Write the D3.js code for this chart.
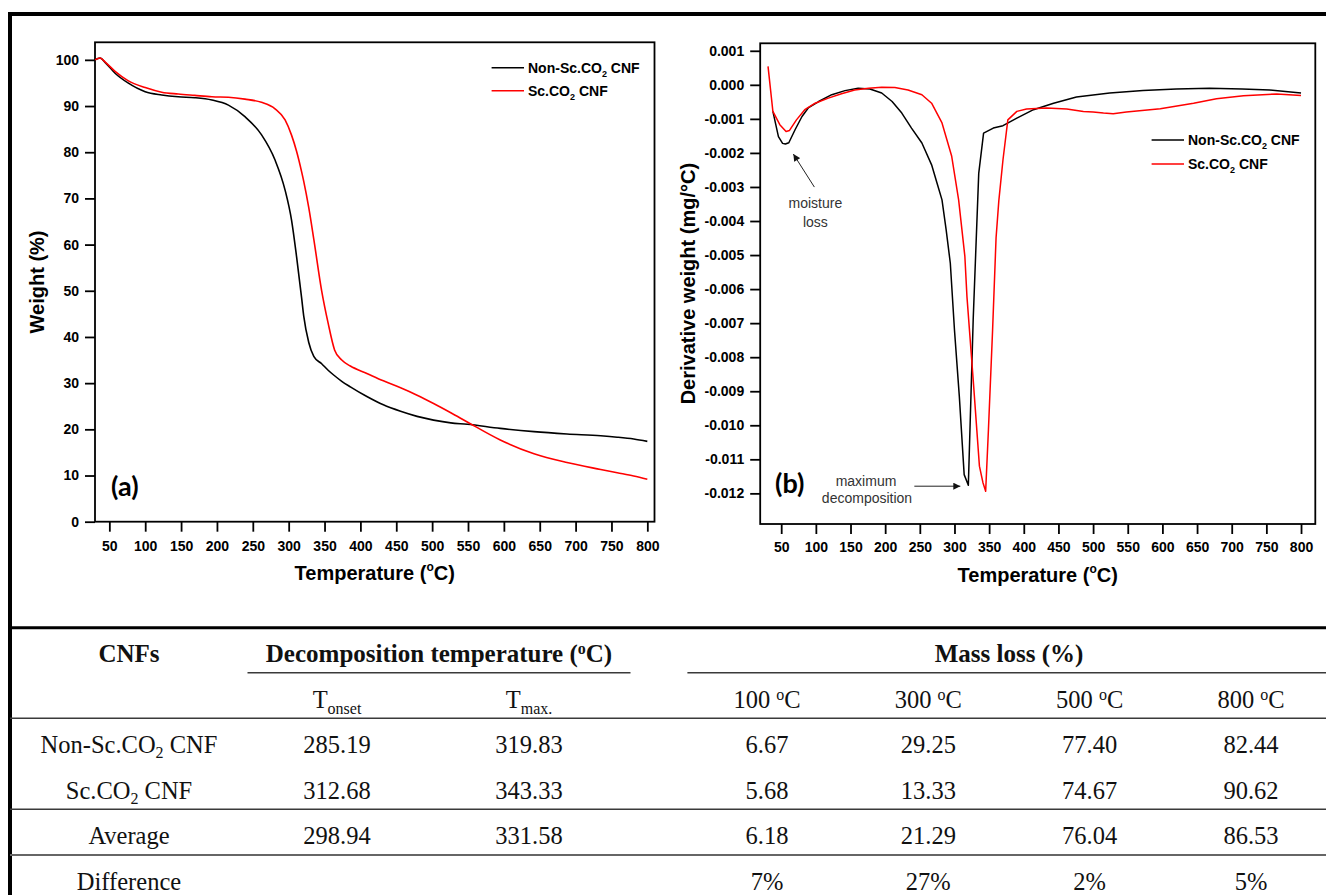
<!DOCTYPE html>
<html>
<head>
<meta charset="utf-8">
<script src="https://cdn.jsdelivr.net/npm/d3@7"></script>
<style>
  body { margin: 0; background: #fff; }
  .tick text { font-family: "Liberation Sans", Arial, sans-serif; font-size: 14px; font-weight: bold; fill: #000; }
  .tick line { stroke: #000; stroke-width: 1.8; }
  .title { font-family: "Liberation Sans", Arial, sans-serif; font-size: 20px; font-weight: bold; }
  .legend { font-family: "Liberation Sans", Arial, sans-serif; font-size: 14px; font-weight: bold; }
  .note { font-family: "Liberation Sans", Arial, sans-serif; font-size: 14px; fill: #333; }
  .panel { font-family: Lato, "Open Sans", sans-serif; font-size: 27px; font-weight: bold; }
  .tbl { font-family: "Liberation Serif", "Times New Roman", serif; font-size: 24.5px; fill: #111; }
  .tbl.head { font-weight: bold; font-size: 25px; }
</style>
</head>
<body>
<div id="chart"></div>
<script>
// ---- panel (a): TGA weight curves ----
var tgaTemp = [30, 37, 45, 58, 76, 100, 123, 146, 169, 193, 216, 239, 262, 281, 295, 304, 311, 318, 321, 328,
  335, 346, 355, 364, 374, 386, 409, 432, 456, 479, 502, 526, 549, 595, 642, 688, 735, 758, 781, 800];
var tgaNonSc = [100.0, 100.4, 99.3, 97.1, 95.0, 93.1, 92.4, 92.0, 91.8, 91.3, 90.2, 87.7, 83.8, 78.3, 71.8, 65.3, 57.4, 48.5, 44.5, 38.8,
  35.8, 34.2, 32.8, 31.6, 30.4, 29.2, 27.1, 25.3, 23.9, 22.8, 22.0, 21.4, 21.1, 20.2, 19.5, 19.0, 18.6, 18.3, 17.9, 17.4];
var tgaSc = [100.0, 100.4, 99.4, 97.5, 95.5, 94.0, 93.0, 92.6, 92.3, 92.0, 91.9, 91.5, 90.8, 89.4, 87.0, 83.7, 80.2, 75.8, 73.7, 68.0,
  61.2, 50.0, 43.0, 37.2, 35.0, 33.7, 32.1, 30.5, 29.0, 27.4, 25.6, 23.6, 21.6, 17.7, 14.7, 12.8, 11.3, 10.6, 9.9, 9.2];

// ---- panel (b): DTG derivative curves ----
var dtgTempNonSc = [38, 46, 52, 56, 61, 70, 80, 89, 104, 123, 142, 161, 178, 195, 210, 224, 238, 253, 267, 275,
  282, 288, 294, 300, 307, 314, 320, 327, 335, 342, 356, 370, 390, 414, 443, 476, 524, 572, 620, 668, 715, 755, 800];
var dtgNonSc = [-0.00078, -0.00152, -0.00172, -0.00174, -0.00170, -0.00132, -0.00093, -0.00068, -0.00049, -0.00029,
  -0.00017, -0.00010, -0.00012, -0.00024, -0.00049, -0.00083, -0.00127, -0.00171, -0.00235, -0.00290,
  -0.00338, -0.00426, -0.00524, -0.00720, -0.00915, -0.01145, -0.01176, -0.00690, -0.00260, -0.00142,
  -0.00127, -0.00120, -0.00098, -0.00073, -0.00054, -0.00036, -0.00024, -0.00017, -0.00012, -0.00010,
  -0.00012, -0.00015, -0.00024];
var dtgTempSc = [31, 38, 48, 57, 62, 72, 84, 99, 118, 137, 156, 176, 195, 214, 233, 253, 267, 282, 296, 306,
  315, 318, 327, 336, 341, 345, 349, 355, 360, 364, 370, 377, 390, 404, 433, 462, 486, 500, 515, 529,
  548, 597, 645, 678, 717, 765, 800];
var dtgSc = [0.00054, -0.00078, -0.00117, -0.00137, -0.00134, -0.00103, -0.00073, -0.00054, -0.00039, -0.00026,
  -0.00015, -0.00010, -0.00007, -0.00008, -0.00015, -0.00029, -0.00054, -0.00112, -0.00210, -0.00338,
  -0.00504, -0.00622, -0.00866, -0.01120, -0.01168, -0.01194, -0.01013, -0.00720, -0.00450, -0.00340,
  -0.00220, -0.00103, -0.00078, -0.00071, -0.00068, -0.00071, -0.00078, -0.00080, -0.00083, -0.00085,
  -0.00080, -0.00070, -0.00054, -0.00041, -0.00032, -0.00027, -0.00031];

// tick values
var tempTicks = d3.range(50, 801, 50);
var weightTicks = d3.range(0, 101, 10);
var derivTicks = d3.range(-12, 2).map(function (d) { return d / 1000; });

// ---- table ----
var rowNames = ["Non-Sc.CO2 CNF", "Sc.CO2 CNF", "Average", "Difference"];
var tOnset = [285.19, 312.68, 298.94, null];
var tMax = [319.83, 343.33, 331.58, null];
var lossTemps = [100, 300, 500, 800];
var lossNonSc = [6.67, 29.25, 77.40, 82.44];
var lossSc = [5.68, 13.33, 74.67, 90.62];
var lossAvg = [6.18, 21.29, 76.04, 86.53];
var lossDiff = ["7%", "27%", "2%", "5%"];

var seriesNames = ["Non-Sc.CO2 CNF", "Sc.CO2 CNF"];
var seriesColors = ["#000", "#ff0000"];

var svg = d3.select("#chart").append("svg")
  .attr("width", 1326)
  .attr("height", 895);

var defs = svg.append("defs");
defs.append("marker")
  .attr("id", "arrow")
  .attr("viewBox", "0 0 10 10")
  .attr("refX", 10).attr("refY", 5)
  .attr("markerWidth", 9).attr("markerHeight", 7)
  .attr("markerUnits", "userSpaceOnUse")
  .attr("orient", "auto")
  .append("path").attr("d", "M0,0 L10,5 L0,10 Z").attr("fill", "#111");

// text with sub/superscript pieces: parts = [[text, ""|"sub"|"sup"], ...]
function richText(g, x, y, parts, small, shiftSub, shiftSup) {
  var t = g.append("text").attr("x", x).attr("y", y);
  var shift = 0;
  parts.forEach(function (p) {
    var s = t.append("tspan").text(p[0]);
    var target = p[1] == "sub" ? shiftSub : (p[1] == "sup" ? -shiftSup : 0);
    if (target != shift) s.attr("dy", target - shift);
    shift = target;
    if (p[1]) s.style("font-size", small + "px");
  });
  return t;
}
function co2Parts(name) {
  var i = name.indexOf("CO2");
  return [[name.slice(0, i + 2), ""], ["2", "sub"], [name.slice(i + 3), ""]];
}

// outer frame of the figure
svg.append("rect")
  .attr("x", 10).attr("y", 14)
  .attr("width", 1400).attr("height", 1000)
  .attr("fill", "none").attr("stroke", "#000").attr("stroke-width", 4);

// ================= panel (a) =================
var xA = d3.scaleLinear().domain([30, 810]).range([95, 654.5]);
var yA = d3.scaleLinear().domain([0, 103.8]).range([521.7, 42.3]);
var gA = svg.append("g");

gA.append("g")
  .attr("transform", "translate(0," + yA(0) + ")")
  .call(d3.axisBottom(xA).tickValues(tempTicks).tickSize(10).tickPadding(9).tickSizeOuter(0))
  .call(function (g) { g.select(".domain").remove(); });
gA.append("g")
  .attr("transform", "translate(" + xA(30) + ",0)")
  .call(d3.axisLeft(yA).tickValues(weightTicks).tickSize(10).tickPadding(6).tickSizeOuter(0))
  .call(function (g) { g.select(".domain").remove(); });

gA.append("rect")
  .attr("x", xA(30)).attr("y", yA(103.8))
  .attr("width", xA(810) - xA(30)).attr("height", yA(0) - yA(103.8))
  .attr("fill", "none").attr("stroke", "#000").attr("stroke-width", 1.8);

var lineA = d3.line().curve(d3.curveMonotoneX)
  .x(function (d) { return xA(d[0]); })
  .y(function (d) { return yA(d[1]); });
[tgaNonSc, tgaSc].forEach(function (vals, i) {
  gA.append("path")
    .datum(tgaTemp.map(function (t, j) { return [t, vals[j]]; }))
    .attr("d", lineA)
    .attr("fill", "none")
    .attr("stroke", seriesColors[i])
    .attr("stroke-width", 1.6);
});

// axis titles
richText(gA, (xA(30) + xA(810)) / 2, 580, [["Temperature (", ""], ["o", "sup"], ["C)", ""]], 12, 0, 9)
  .attr("class", "title").attr("text-anchor", "middle");
gA.append("text").attr("class", "title")
  .attr("transform", "translate(44," + (yA(0) + yA(103.8)) / 2 + ") rotate(-90)")
  .attr("text-anchor", "middle")
  .text("Weight (%)");

// legend
seriesNames.forEach(function (n, i) {
  var ly = 67.7 + i * 23;
  gA.append("line").attr("x1", 491.6).attr("x2", 524).attr("y1", ly).attr("y2", ly)
    .attr("stroke", seriesColors[i]).attr("stroke-width", 1.6);
  richText(gA, 528, ly + 5, co2Parts(n), 9, 4, 0).attr("class", "legend");
});

gA.append("text").attr("class", "panel").attr("x", 111).attr("y", 496).text("(a)");

// ================= panel (b) =================
var xB = d3.scaleLinear().domain([19.7, 820.6]).range([760.2, 1315.3]);
var yB = d3.scaleLinear().domain([-0.0129, 0.00122]).range([524, 43.3]);
var gB = svg.append("g");

gB.append("g")
  .attr("transform", "translate(0," + yB(-0.0129) + ")")
  .call(d3.axisBottom(xB).tickValues(tempTicks).tickSize(10).tickPadding(8).tickSizeOuter(0))
  .call(function (g) { g.select(".domain").remove(); });
gB.append("g")
  .attr("transform", "translate(" + xB(19.7) + ",0)")
  .call(d3.axisLeft(yB).tickValues(derivTicks).tickSize(10).tickPadding(6).tickSizeOuter(0)
    .tickFormat(function (d) { return (Math.abs(d) < 1e-9 ? 0 : d).toFixed(3); }))
  .call(function (g) { g.select(".domain").remove(); });

gB.append("rect")
  .attr("x", xB(19.7)).attr("y", yB(0.00122))
  .attr("width", xB(820.6) - xB(19.7)).attr("height", yB(-0.0129) - yB(0.00122))
  .attr("fill", "none").attr("stroke", "#000").attr("stroke-width", 1.8);

var lineB = d3.line()
  .x(function (d) { return xB(d[0]); })
  .y(function (d) { return yB(d[1]); });
[[dtgTempNonSc, dtgNonSc], [dtgTempSc, dtgSc]].forEach(function (s, i) {
  gB.append("path")
    .datum(s[0].map(function (t, j) { return [t, s[1][j]]; }))
    .attr("d", lineB)
    .attr("fill", "none")
    .attr("stroke", seriesColors[i])
    .attr("stroke-width", 1.5)
    .attr("stroke-linejoin", "round");
});

richText(gB, (xB(19.7) + xB(820.6)) / 2, 582, [["Temperature (", ""], ["o", "sup"], ["C)", ""]], 12, 0, 9)
  .attr("class", "title").attr("text-anchor", "middle");
gB.append("text").attr("class", "title")
  .attr("transform", "translate(695," + (yB(-0.0129) + yB(0.00122)) / 2 + ") rotate(-90)")
  .attr("text-anchor", "middle")
  .text("Derivative weight (mg/°C)");

seriesNames.forEach(function (n, i) {
  var ly = 140 + i * 24;
  gB.append("line").attr("x1", 1151.6).attr("x2", 1184).attr("y1", ly).attr("y2", ly)
    .attr("stroke", seriesColors[i]).attr("stroke-width", 1.6);
  richText(gB, 1188, ly + 5, co2Parts(n), 9, 4, 0).attr("class", "legend");
});

gB.append("text").attr("class", "panel").attr("x", 775).attr("y", 493).text("(b)");

// annotations
var moistX = xB(56), moistY = yB(-0.00174);
gB.append("line")
  .attr("x1", moistX + 29).attr("y1", moistY + 43)
  .attr("x2", moistX + 8).attr("y2", moistY + 10)
  .attr("stroke", "#222").attr("stroke-width", 1)
  .attr("marker-end", "url(#arrow)");
gB.append("text").attr("class", "note").attr("text-anchor", "middle")
  .attr("x", moistX + 30).attr("y", 208).text("moisture");
gB.append("text").attr("class", "note").attr("text-anchor", "middle")
  .attr("x", moistX + 30).attr("y", 227).text("loss");

var maxX = xB(320), maxY = yB(-0.01176);
gB.append("line")
  .attr("x1", maxX - 54).attr("y1", maxY + 1)
  .attr("x2", maxX - 8).attr("y2", maxY + 1)
  .attr("stroke", "#222").attr("stroke-width", 1)
  .attr("marker-end", "url(#arrow)");
gB.append("text").attr("class", "note").attr("text-anchor", "middle")
  .attr("x", 866).attr("y", 486).text("maximum");
gB.append("text").attr("class", "note").attr("text-anchor", "middle")
  .attr("x", 867).attr("y", 503).text("decomposition");

// ================= table =================
var gT = svg.append("g");
var lineCol = "#3a3a3a";

gT.append("line").attr("x1", 10).attr("x2", 1326).attr("y1", 627.7).attr("y2", 627.7)
  .attr("stroke", "#000").attr("stroke-width", 3);
[[247.5, 630.5], [687.4, 1326]].forEach(function (r) {
  gT.append("line").attr("x1", r[0]).attr("x2", r[1]).attr("y1", 672.7).attr("y2", 672.7)
    .attr("stroke", lineCol).attr("stroke-width", 1.5);
});
[718.3, 809.3].forEach(function (y) {
  gT.append("line").attr("x1", 10).attr("x2", 1326).attr("y1", y).attr("y2", y)
    .attr("stroke", lineCol).attr("stroke-width", 1.5);
});
gT.append("line").attr("x1", 10).attr("x2", 1326).attr("y1", 855).attr("y2", 855)
  .attr("stroke", "#666").attr("stroke-width", 2);

var nameX = 129;
var decoX = d3.scalePoint().domain(["onset", "max."]).range([337, 529]);
var lossX = d3.scalePoint().domain(lossTemps).range([767, 1251]);
var rowY = d3.scalePoint().domain(rowNames).range([753, 889.5]);

// header rows
gT.append("text").attr("class", "tbl head").attr("text-anchor", "middle")
  .attr("x", nameX).attr("y", 662).text("CNFs");
richText(gT, 439, 662, [["Decomposition temperature (", ""], ["o", "sup"], ["C)", ""]], 16, 0, 8)
  .attr("class", "tbl head").attr("text-anchor", "middle");
gT.append("text").attr("class", "tbl head").attr("text-anchor", "middle")
  .attr("x", 1009).attr("y", 662).text("Mass loss (%)");

decoX.domain().forEach(function (k) {
  richText(gT, decoX(k), 708, [["T", ""], [k, "sub"]], 16, 6, 0)
    .attr("class", "tbl").attr("text-anchor", "middle");
});
lossTemps.forEach(function (t) {
  richText(gT, lossX(t), 708, [[t + " ", ""], ["o", "sup"], ["C", ""]], 16, 0, 8)
    .attr("class", "tbl").attr("text-anchor", "middle");
});

// body rows
var f2 = d3.format(".2f");
var lossRows = [lossNonSc, lossSc, lossAvg];
rowNames.forEach(function (n, i) {
  var y = rowY(n);
  var parts = n.indexOf("CO2") >= 0 ? co2Parts(n) : [[n, ""]];
  richText(gT, nameX, y, parts, 16, 5, 0).attr("class", "tbl").attr("text-anchor", "middle");
  if (tOnset[i] != null) {
    gT.append("text").attr("class", "tbl").attr("text-anchor", "middle")
      .attr("x", decoX("onset")).attr("y", y).text(f2(tOnset[i]));
    gT.append("text").attr("class", "tbl").attr("text-anchor", "middle")
      .attr("x", decoX("max.")).attr("y", y).text(f2(tMax[i]));
  }
  lossTemps.forEach(function (t, j) {
    var v = i < 3 ? f2(lossRows[i][j]) : lossDiff[j];
    gT.append("text").attr("class", "tbl").attr("text-anchor", "middle")
      .attr("x", lossX(t)).attr("y", y).text(v);
  });
});
</script>
</body>
</html>
